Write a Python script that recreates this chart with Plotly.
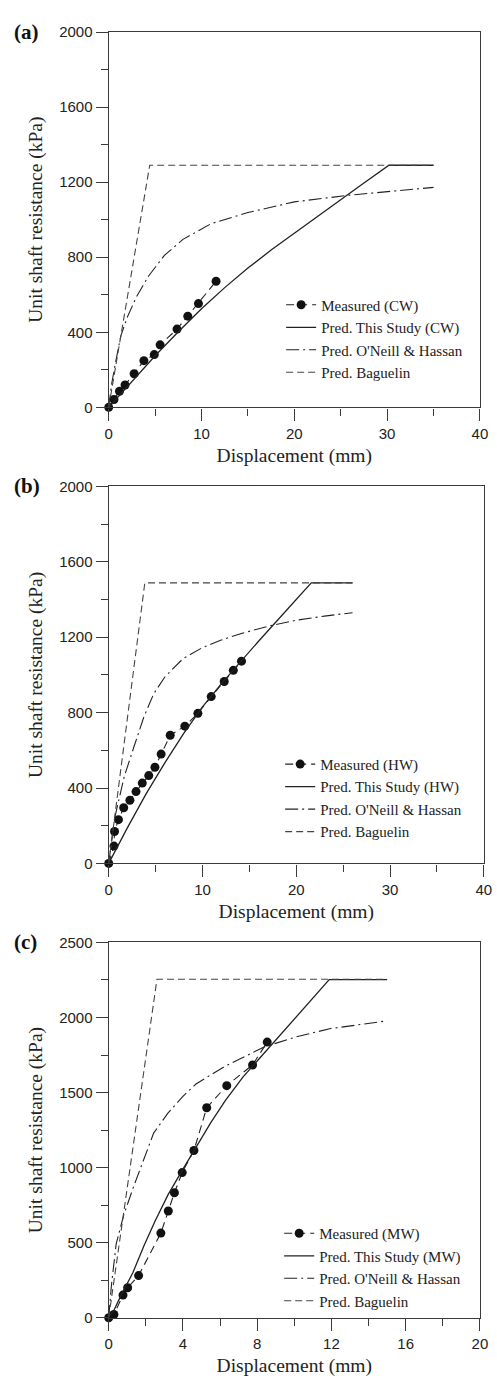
import plotly.graph_objects as go

W, H = 497, 1389

# ---------------- Panel (a) CW ----------------
a_meas_x = [0, 0.57, 1.16, 1.76, 2.74, 3.79, 4.91, 5.54, 7.36, 8.52, 9.67, 11.57]
a_meas_y = [0, 42, 86, 119, 179, 249, 281, 333, 417, 486, 553, 672]
a_study_x = [0, 2.5, 5, 7.5, 10, 12.5, 15, 17.5, 20, 22.5, 25, 27.5, 30.2, 35]
a_study_y = [0, 140, 275, 403, 525, 638, 742, 838, 928, 1016, 1105, 1195, 1290, 1290]
a_oneill_x = [0, 0.3, 0.7, 1.3, 2, 3, 4.3, 6, 8, 11, 15, 20, 26, 30, 35]
a_oneill_y = [0, 120, 230, 380, 480, 590, 700, 810, 895, 978, 1038, 1095, 1131, 1150, 1172]
a_bag_x = [0, 4.42, 35]
a_bag_y = [0, 1290, 1290]

# ---------------- Panel (b) HW ----------------
b_meas_x = [0, 0.56, 0.62, 1.04, 1.60, 2.26, 2.91, 3.58, 4.27, 4.93, 5.59, 6.56, 8.12, 9.51, 10.93, 12.32, 13.29, 14.16]
b_meas_y = [0, 92, 169, 232, 295, 335, 381, 426, 466, 510, 580, 680, 728, 796, 885, 965, 1024, 1073]
b_study_x = [0, 2, 4, 6, 8, 10, 12, 14, 16, 18, 20, 21.6, 26]
b_study_y = [0, 190, 370, 535, 690, 830, 952, 1068, 1180, 1290, 1400, 1488, 1488]
b_oneill_x = [0, 0.3, 0.62, 1.0, 1.67, 2.7, 3.75, 4.8, 6, 7.9, 10, 12, 14.15, 17.3, 20, 23, 26]
b_oneill_y = [0, 120, 236, 320, 463, 620, 777, 900, 990, 1085, 1145, 1185, 1220, 1262, 1290, 1312, 1330]
b_bag_x = [0, 3.85, 26]
b_bag_y = [0, 1488, 1488]

# ---------------- Panel (c) MW ----------------
c_meas_x = [0, 0.28, 0.77, 1.02, 1.61, 2.81, 3.21, 3.54, 3.96, 4.59, 5.28, 6.36, 7.75, 8.54]
c_meas_y = [0, 22, 151, 200, 281, 564, 711, 833, 967, 1114, 1399, 1546, 1684, 1836]
c_study_x = [0, 0.3, 0.67, 1.0, 1.3, 1.6, 1.9, 2.5, 3.2, 4.0, 4.7, 5.5, 6.3, 7.24, 8, 10, 11.88, 15]
c_study_y = [0, 55, 151, 225, 300, 390, 480, 645, 820, 990, 1135, 1300, 1450, 1605, 1710, 1990, 2252, 2252]
c_oneill_x = [0, 0.15, 0.4, 0.8, 1.3, 1.8, 2.42, 3.2, 4.0, 4.7, 6.3, 8.4, 10.1, 11.9, 13.5, 15]
c_oneill_y = [0, 220, 490, 680, 860, 1030, 1230, 1365, 1475, 1557, 1678, 1805, 1871, 1925, 1955, 1978]
c_bag_x = [0, 2.6, 15]
c_bag_y = [0, 2255, 2255]

panels = [
    dict(tag="(a)", code="CW", meas=(a_meas_x, a_meas_y), study=(a_study_x, a_study_y),
         oneill=(a_oneill_x, a_oneill_y), bag=(a_bag_x, a_bag_y),
         xr=[0, 40], xd=10, xm=5, yr=[0, 2000], yd=400, ym=200,
         top=23.3, bot=403.3, left=107.3, right=487.7, leg=(284, 283)),
    dict(tag="(b)", code="HW", meas=(b_meas_x, b_meas_y), study=(b_study_x, b_study_y),
         oneill=(b_oneill_x, b_oneill_y), bag=(b_bag_x, b_bag_y),
         xr=[0, 40], xd=10, xm=5, yr=[0, 2000], yd=400, ym=200,
         top=483.3, bot=865.0, left=107.3, right=491.7, leg=(283, 748)),
    dict(tag="(c)", code="MW", meas=(c_meas_x, c_meas_y), study=(c_study_x, c_study_y),
         oneill=(c_oneill_x, c_oneill_y), bag=(c_bag_x, c_bag_y),
         xr=[0, 20], xd=4, xm=2, yr=[0, 2500], yd=500, ym=250,
         top=945.0, bot=1325.0, left=107.3, right=487.7, leg=(282, 1223)),
]

SERIF = "Liberation Serif, Times New Roman, serif"
SANS = "Liberation Sans, Arial, sans-serif"
INK = "#222222"
AX = "#3a3a3a"

fig = go.Figure()
layout = dict(width=W, height=H, margin=dict(l=0, r=0, t=0, b=0),
              paper_bgcolor="white", plot_bgcolor="white", showlegend=True)
annotations = []

for i, p in enumerate(panels):
    n = "" if i == 0 else str(i + 1)
    xa, ya = "x" + n, "y" + n
    lg = "legend" + n
    fig.add_trace(go.Scatter(x=p["meas"][0], y=p["meas"][1], mode="lines+markers",
                             name="Measured (%s)" % p["code"], xaxis=xa, yaxis=ya, legend=lg,
                             line=dict(color=INK, width=1.1, dash="8px,5px"),
                             marker=dict(size=9, color="#111111"), cliponaxis=False))
    fig.add_trace(go.Scatter(x=p["study"][0], y=p["study"][1], mode="lines",
                             name="Pred. This Study (%s)" % p["code"], xaxis=xa, yaxis=ya, legend=lg,
                             line=dict(color=INK, width=1.3)))
    fig.add_trace(go.Scatter(x=p["oneill"][0], y=p["oneill"][1], mode="lines",
                             name="Pred. O'Neill & Hassan", xaxis=xa, yaxis=ya, legend=lg,
                             line=dict(color=INK, width=1.1, dash="13px,4px,2px,4px")))
    fig.add_trace(go.Scatter(x=p["bag"][0], y=p["bag"][1], mode="lines",
                             name="Pred. Baguelin", xaxis=xa, yaxis=ya, legend=lg,
                             line=dict(color="#444444", width=1.1, dash="7px,4px")))

    common = dict(showline=True, mirror=True, linecolor=AX, linewidth=1.3,
                  ticks="outside", ticklen=12, tickwidth=1.3, tickcolor=AX,
                  showgrid=False, zeroline=False,
                  tickfont=dict(family=SANS, size=15, color="#222"))
    layout["xaxis" + n] = dict(common, range=p["xr"], dtick=p["xd"], tick0=0,
                               domain=[p["left"] / W, p["right"] / W], anchor=ya,
                               minor=dict(ticks="outside", ticklen=7, dtick=p["xm"], tick0=0,
                                          tickwidth=1.3, tickcolor=AX, showgrid=False),
                               title=dict(text="Displacement (mm)", standoff=7,
                                          font=dict(family=SERIF, size=19.5, color="#222")))
    layout["yaxis" + n] = dict(common, range=p["yr"], dtick=p["yd"], tick0=0,
                               domain=[1 - p["bot"] / H, 1 - p["top"] / H], anchor=xa,
                               minor=dict(ticks="outside", ticklen=7, dtick=p["ym"], tick0=0,
                                          tickwidth=1.3, tickcolor=AX, showgrid=False),
                               title=dict(text="Unit shaft resistance (kPa)", standoff=11,
                                          font=dict(family=SERIF, size=19.5, color="#222")))
    layout[lg] = dict(x=p["leg"][0] / W, y=1 - p["leg"][1] / H, xanchor="left", yanchor="top",
                      bgcolor="rgba(0,0,0,0)", borderwidth=0, tracegroupgap=0,
                      font=dict(family=SERIF, size=15, color="#222"))
    annotations.append(dict(text="<b>%s</b>" % p["tag"], x=8 / W, y=1 - p["top"] / H,
                            xref="paper", yref="paper", xanchor="left", yanchor="middle",
                            showarrow=False, font=dict(family=SERIF, size=21, color="#111")))

layout["annotations"] = annotations
fig.update_layout(**layout)
fig.write_html("out.html")
